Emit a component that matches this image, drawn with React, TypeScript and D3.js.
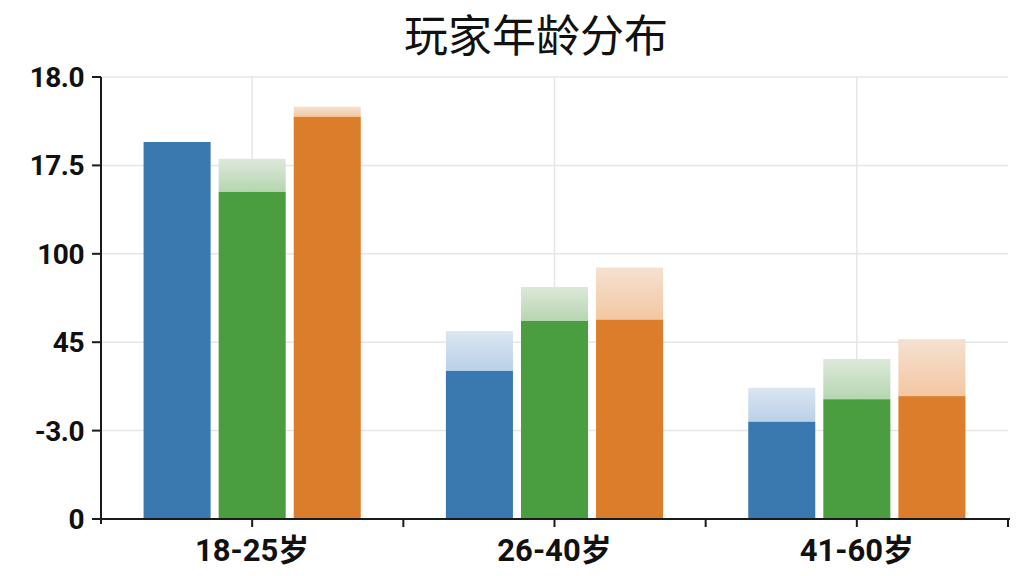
import React from 'react';
import * as d3 from 'd3';

// chart data
const categories = ['18-25岁', '26-40岁', '41-60岁'];
const seriesNames = ['blue', 'green', 'orange'];
const baseValues = [
  [85.3, 33.5, 22.0],
  [74.0, 44.8, 27.1],
  [91.0, 45.1, 27.8],
];
const capValues = [
  [85.3, 42.5, 29.7],
  [81.5, 52.5, 36.2],
  [93.3, 56.9, 40.7],
];
const yTickValues = [0, 20, 40, 60, 80, 100];
const yTickLabels = ['0', '-3.0', '45', '100', '17.5', '18.0'];

const solidColors = ['#3a79b0', '#4a9e3f', '#dc7d2b'];
const capTop = ['#dbe6f1', '#dde9da', '#f5e1d1'];
const capBottom = ['#b9d0e7', '#b6d5b1', '#f3c7a2'];

const W = 1024;
const H = 576;
const left = 101;
const right = 1008;
const top = 77;
const bottom = 519;

const App: React.FC = () => {
  const x = d3.scaleBand<string>().domain(categories).range([left, right]).padding(0);
  const xInner = d3.scaleBand<string>()
    .domain(seriesNames)
    .range([0, x.bandwidth()])
    .paddingInner(0.107)
    .paddingOuter(0.567);
  const y = d3.scaleLinear().domain([0, 100]).range([bottom, top]);

  const cjk = '"Noto Sans CJK SC", "Noto Sans", sans-serif';
  const num = 'Roboto, "Noto Sans CJK SC", sans-serif';

  return (
    <svg width={W} height={H} style={{ position: 'absolute', left: 0, top: 0, background: '#fff' }}>
      <defs>
        {seriesNames.map((s, i) => (
          <linearGradient key={s} id={`cap-${s}`} x1="0" y1="0" x2="0" y2="1">
            <stop offset="0%" stopColor={capTop[i]} />
            <stop offset="100%" stopColor={capBottom[i]} />
          </linearGradient>
        ))}
      </defs>

      <text x={536} y={52} textAnchor="middle" fontFamily={cjk} fontSize={44} fill="#111">
        玩家年龄分布
      </text>

      {/* grid */}
      <g stroke="#e6e6e6" strokeWidth={1.5}>
        {yTickValues.slice(1).map(v => (
          <line key={v} x1={left} x2={right} y1={y(v)} y2={y(v)} />
        ))}
        {categories.map(c => {
          const cx = x(c)! + x.bandwidth() / 2;
          return <line key={c} x1={cx} x2={cx} y1={top} y2={bottom} />;
        })}
      </g>

      {/* bars */}
      {categories.map((c, ci) => (
        <g key={c} transform={`translate(${x(c)},0)`}>
          {seriesNames.map((s, si) => {
            const bx = xInner(s)!;
            const bw = xInner.bandwidth();
            const base = baseValues[si][ci];
            const cap = capValues[si][ci];
            return (
              <g key={s}>
                {cap > base && (
                  <rect x={bx} width={bw} y={y(cap)} height={y(base) - y(cap)} fill={`url(#cap-${s})`} />
                )}
                <rect x={bx} width={bw} y={y(base)} height={y(0) - y(base)} fill={solidColors[si]} />
              </g>
            );
          })}
        </g>
      ))}

      {/* y axis */}
      <g stroke="#1a1a1a" strokeWidth={2}>
        <line x1={left} x2={left} y1={top} y2={bottom + 5} />
        {yTickValues.map(v => (
          <line key={v} x1={left - 9} x2={left} y1={y(v)} y2={y(v)} />
        ))}
      </g>
      {yTickValues.map((v, i) => (
        <text key={v} x={84} y={y(v)} dy="0.36em" textAnchor="end" fontFamily={num}
          fontWeight={700} fontSize={28} fill="#111" letterSpacing={-0.5}>
          {yTickLabels[i]}
        </text>
      ))}

      {/* x axis */}
      <g stroke="#1a1a1a" strokeWidth={2}>
        <line x1={left - 9} x2={right + 2} y1={bottom} y2={bottom} />
        {categories.map(c => {
          const cx = x(c)! + x.bandwidth() / 2;
          const ex = x(c)! + x.bandwidth();
          return (
            <g key={c}>
              <line x1={cx} x2={cx} y1={bottom} y2={bottom + 8} />
              <line x1={ex} x2={ex} y1={bottom} y2={bottom + 8} />
            </g>
          );
        })}
      </g>
      {categories.map(c => (
        <text key={c} x={x(c)! + x.bandwidth() / 2} y={561} textAnchor="middle" fontFamily={num}
          fontWeight={700} fontSize={31} fill="#111">
          {c}
        </text>
      ))}
    </svg>
  );
};

export default App;
